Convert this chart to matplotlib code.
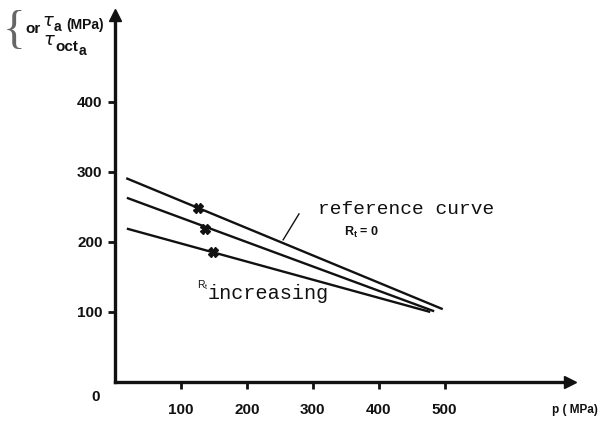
from matplotlib import pyplot as plt

# axis ticks
xTicks = [100, 200, 300, 400, 500]
yTicks = [100, 200, 300, 400]

# three straight curves, start / end points (p in MPa, tau in MPa)
curveP = [[17, 497], [18, 484], [18, 478]]
curveTau = [[291, 104], [263, 101], [219, 100]]

# little marks on each curve
markP = [126, 136, 148]
markTau = [249, 219, 186]

# leader line for the reference curve label
leaderP = [255, 279]
leaderTau = [203, 240]

W, H = 612, 421
fig = plt.figure(figsize=(W / 100, H / 100), dpi=100)
ax = fig.add_axes([115 / W, (H - 382) / H, 455 / W, 367 / H])
ax.set_xlim(0, 690)
ax.set_ylim(0, 524)

for s in ["top", "right"]:
    ax.spines[s].set_visible(False)
for s in ["left", "bottom"]:
    ax.spines[s].set_linewidth(2.4)
    ax.spines[s].set_color("#111111")

# arrow heads on the axes
ax.plot(1, 0, ">", color="#111111", markersize=9, transform=ax.transAxes, clip_on=False)
ax.plot(0, 1, "^", color="#111111", markersize=9, transform=ax.transAxes, clip_on=False)

tickFont = {"family": "Liberation Sans", "weight": "bold", "size": 11}
ax.set_xticks(xTicks)
ax.set_yticks(yTicks)
ax.set_xticklabels([str(t) for t in xTicks], fontdict=tickFont)
ax.set_yticklabels([str(t) for t in yTicks], fontdict=tickFont)
ax.tick_params(axis="x", direction="out", length=5, width=2, pad=10, colors="#111111")
ax.tick_params(axis="y", direction="out", length=5, width=2, pad=4, colors="#111111")

for ps, ts in zip(curveP, curveTau):
    ax.plot(ps, ts, color="#111111", linewidth=1.7, solid_capstyle="butt")
ax.plot(markP, markTau, "X", color="#111111", markersize=7, linestyle="none")
ax.plot(leaderP, leaderTau, color="#111111", linewidth=1.0)

mono = "Liberation Mono"
ax.text(308, 246, "reference curve", family=mono, fontsize=14, va="center", color="#111111")
ax.text(348, 214, r"R$_\mathregular{t}$ = 0", family="Liberation Sans", weight="bold",
        fontsize=9, va="center", color="#111111")
ax.text(125, 139, r"R$_\mathregular{t}$", family="Liberation Sans", fontsize=7.5,
        va="center", color="#111111")
ax.text(141, 126, "increasing", family=mono, fontsize=14.5, va="center", color="#111111")

# origin and axis titles
ax.text(-30, -22, "0", family="Liberation Sans", weight="bold", fontsize=11,
        ha="center", va="center", color="#111111", clip_on=False)
fig.text(575 / W, 1 - 410 / H, "p ( MPa)", family="Liberation Sans", weight="bold",
         fontsize=8.5, ha="center", va="center", color="#111111")

fig.text(25 / W, 1 - 32 / H, "{", family="Liberation Serif", fontsize=34,
         ha="right", va="center", color="#666666")
fig.text(25 / W, 1 - 29 / H, "or", family="Liberation Sans", weight="bold",
         fontsize=11, ha="left", va="center", color="#111111")
fig.text(42 / W, 1 - 21 / H, r"$\tau$", fontsize=13, ha="left", va="center", color="#111111")
fig.text(54 / W, 1 - 27 / H, "a", family="Liberation Sans", weight="bold",
         fontsize=10, ha="left", va="center", color="#111111")
fig.text(66 / W, 1 - 25 / H, "(MPa)", family="Liberation Sans", weight="bold",
         fontsize=10, ha="left", va="center", color="#111111")
fig.text(43 / W, 1 - 40 / H, r"$\tau$", fontsize=13, ha="left", va="center", color="#111111")
fig.text(55 / W, 1 - 47 / H, "oct", family="Liberation Sans", weight="bold",
         fontsize=11, ha="left", va="center", color="#111111")
fig.text(79 / W, 1 - 51 / H, "a", family="Liberation Sans", weight="bold",
         fontsize=10, ha="left", va="center", color="#111111")

plt.savefig("out.png", dpi=100)
